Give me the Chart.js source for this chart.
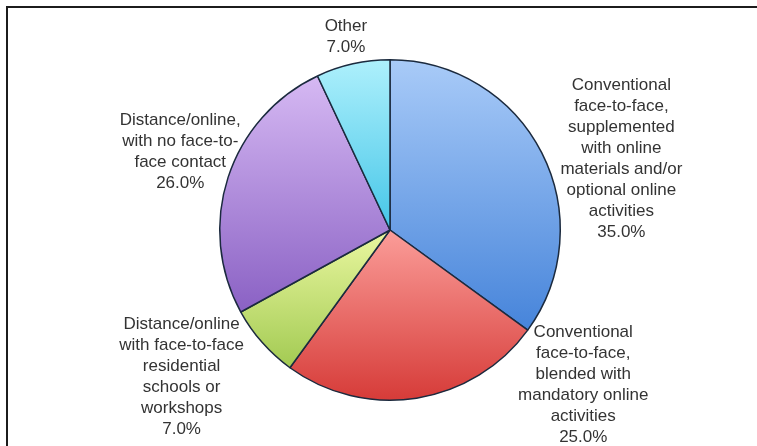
<!DOCTYPE html>
<html>
<head>
<meta charset="utf-8">
<script src="https://cdn.jsdelivr.net/npm/chart.js@4.4.1/dist/chart.umd.min.js"></script>
<style>
    html, body { margin: 0; padding: 0; background: #fff; overflow: hidden; }
    #wrap { position: relative; width: 757px; height: 446px; overflow: hidden; }
    #frame {
        position: absolute; left: 6px; top: 6px; width: 780px; height: 480px;
        border-left: 2px solid #1c1c1c; border-top: 2px solid #1c1c1c;
    }
    #chart { position: absolute; left: 0; top: 0; }
</style>
</head>
<body>
<div id="wrap">
    <div id="frame"></div>
    <canvas id="chart" width="757" height="446"></canvas>
</div>
<script>
const categories = [
    ['Conventional', 'face-to-face,', 'supplemented', 'with online', 'materials and/or', 'optional online', 'activities'],
    ['Conventional', 'face-to-face,', 'blended with', 'mandatory online', 'activities'],
    ['Distance/online', 'with face-to-face', 'residential', 'schools or', 'workshops'],
    ['Distance/online,', 'with no face-to-', 'face contact'],
    ['Other']
];
const shares = [35.0, 25.0, 7.0, 26.0, 7.0];

const topColors = ['#a9cbf8', '#fb9d99', '#eaf7a0', '#d6b9f3', '#aef0fc'];
const bottomColors = ['#4684da', '#d63b38', '#a2ca52', '#8a61c4', '#45c6e8'];

// where each label block sits, in units of the pie radius from its centre
const labelOffsets = [
    [1.359, -0.418],
    [1.135, 0.912],
    [-1.224, 0.862],
    [-1.232, -0.462],
    [-0.259, -1.132]
];

function sliceGradient(context) {
    const chart = context.chart;
    const area = chart.chartArea;
    const i = context.dataIndex;
    if (!area) {
        return bottomColors[i];
    }
    const cx = (area.left + area.right) / 2;
    const cy = (area.top + area.bottom) / 2;
    const r = Math.min(area.width, area.height) / 2;
    const total = shares.reduce((a, b) => a + b, 0);
    let before = 0;
    for (let k = 0; k < i; k++) before += shares[k];
    const a0 = -Math.PI / 2 + 2 * Math.PI * before / total;
    const a1 = a0 + 2 * Math.PI * shares[i] / total;
    const ys = [cy, cy + r * Math.sin(a0), cy + r * Math.sin(a1)];
    for (let k = Math.ceil(a0 / (Math.PI / 2)); k * Math.PI / 2 <= a1; k++) {
        ys.push(cy + r * Math.sin(k * Math.PI / 2));
    }
    const g = chart.ctx.createLinearGradient(0, Math.min(...ys), 0, Math.max(...ys));
    g.addColorStop(0, topColors[i]);
    g.addColorStop(1, bottomColors[i]);
    return g;
}

const sliceLabels = {
    id: 'sliceLabels',
    afterDatasetsDraw(chart) {
        const c = chart.ctx;
        const arcs = chart.getDatasetMeta(0).data;
        const lineHeight = 21;
        c.save();
        c.font = '17px "Liberation Sans", Arial, sans-serif';
        c.fillStyle = '#333333';
        c.textAlign = 'center';
        c.textBaseline = 'middle';
        arcs.forEach((arc, i) => {
            const lines = categories[i].concat([shares[i].toFixed(1) + '%']);
            const r = arc.outerRadius;
            const x = arc.x + labelOffsets[i][0] * r;
            const y0 = arc.y + labelOffsets[i][1] * r - (lines.length - 1) * lineHeight / 2;
            lines.forEach((t, j) => c.fillText(t, x, y0 + j * lineHeight));
        });
        c.restore();
    }
};

const ctx = document.getElementById('chart');

new Chart(ctx, {
    type: 'pie',
    data: {
        labels: categories.map(l => l.join(' ')),
        datasets: [{
            data: shares,
            backgroundColor: sliceGradient,
            borderColor: '#1b2a3e',
            borderWidth: 1.5
        }]
    },
    options: {
        responsive: false,
        animation: false,
        layout: {
            padding: { top: 59, bottom: 45, left: 219, right: 196 }
        },
        plugins: {
            legend: { display: false },
            tooltip: { enabled: false }
        }
    },
    plugins: [sliceLabels]
});
</script>
</body>
</html>
